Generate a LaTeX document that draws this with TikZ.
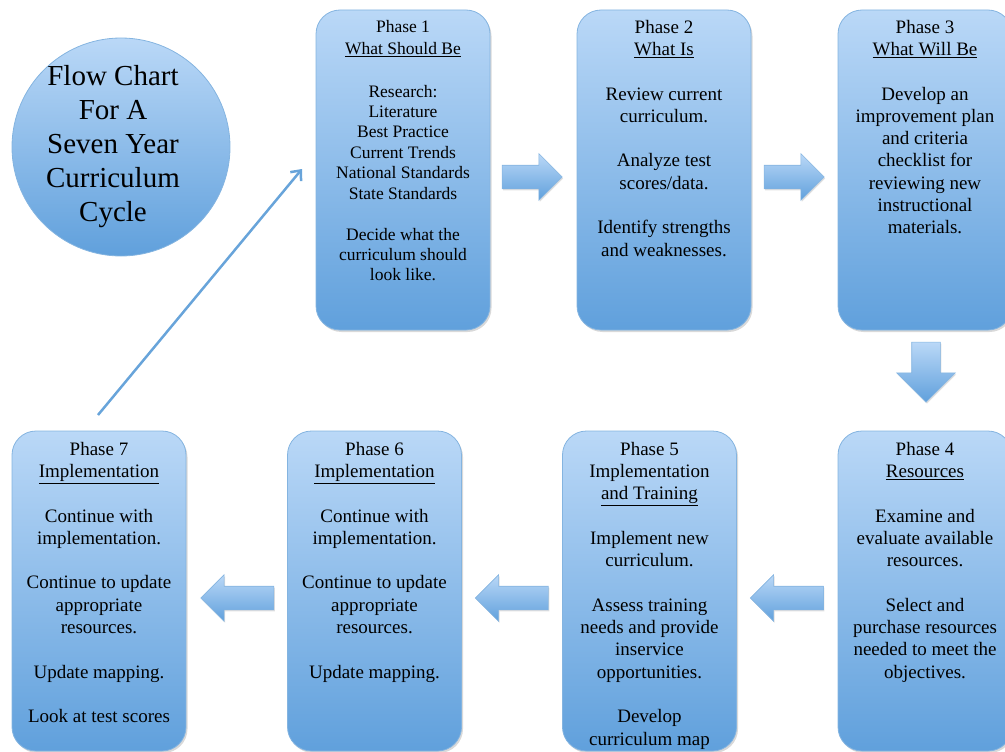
\documentclass[tikz,border=0pt]{standalone}
\usepackage{fontspec}
\setmainfont{Liberation Serif}
\usetikzlibrary{arrows.meta,shapes.arrows,shadows,calc}

\definecolor{boxtop}{RGB}{186,216,247}
\definecolor{boxbot}{RGB}{96,160,220}
\definecolor{boxedge}{RGB}{132,180,224}
\definecolor{linkblue}{RGB}{104,164,218}

\begin{document}
\begin{tikzpicture}[x=1pt,y=1pt,yscale=-1,xscale=1,
  phase/.style={draw=boxedge, line width=0.8pt, rounded corners=24pt, top color=boxtop, bottom color=boxbot, minimum width=174pt, minimum height=320pt, inner sep=0pt, drop shadow={shadow xshift=1.5pt, shadow yshift=-2pt, opacity=0.3}},
  txt/.style={anchor=north, align=center, inner sep=0.75pt, font=\fontsize{19}{22.3}\selectfont},
  blockarrow/.style={single arrow, draw=boxedge, line width=0.6pt, top color=boxtop, bottom color=boxbot, inner xsep=0pt, inner ysep=11.5pt, single arrow head extend=11.5pt, minimum height=60pt, anchor=tip, drop shadow={shadow xshift=1pt, shadow yshift=-1.5pt, opacity=0.25}},
  link/.style={draw=linkblue, line width=2.5pt, -{Straight Barb[length=8pt,width=14pt,line width=2.5pt]}}]
\useasboundingbox (0,0) rectangle (1005,752);

%Shape: Circle
\node [circle, draw=boxedge, line width=0.8pt, top color=boxtop, bottom color=boxbot, minimum size=218pt, inner sep=0pt] (cyc) at (121,147) {};
% Text Node
\node [align=center, inner sep=0.75pt, font=\fontsize{29}{34}\selectfont] (cyctxt) at ($(cyc.center)+(-8,0)$) {Flow Chart\\For A\\Seven Year\\Curriculum\\Cycle};

%Shape: Rounded Rect (top row)
\node [phase] (ph1) at (403,170) {};
\node [phase] (ph2) at (664,170) {};
\node [phase] (ph3) at (925,170) {};
%Shape: Rounded Rect (bottom row)
\node [phase] (ph4) at (925,591) {};
\node [phase] (ph5) at (649.5,591) {};
\node [phase] (ph6) at (374.5,591) {};
\node [phase] (ph7) at (99,591) {};

%Block Arrows
\node [blockarrow] (a12) at ($(ph2.west)+(-14,7)$) {};
\node [blockarrow] (a23) at ($(ph3.west)+(-13,7)$) {};
\node [blockarrow, shape border rotate=270, inner xsep=14pt, inner ysep=0pt, single arrow head extend=15pt] (a34) at ($(ph4.north)+(1,-28)$) {};
\node [blockarrow, shape border rotate=180, minimum height=73pt] (a45) at ($(ph5.east)+(13,7)$) {};
\node [blockarrow, shape border rotate=180, minimum height=73pt] (a56) at ($(ph6.east)+(13,7)$) {};
\node [blockarrow, shape border rotate=180, minimum height=73pt] (a67) at ($(ph7.east)+(14,7)$) {};

%Straight Lines
\coordinate (from7) at (98,415);
\coordinate (to1) at (302,169);
\draw [link] (from7) -- (to1);

% Text Node
\draw (403,19) node (t1) [txt, font=\fontsize{17.5}{20.4}\selectfont] {Phase 1\\[1.6pt]\underline{What Should Be}\\[22.6pt]Research:\\Literature\\Best Practice\\Current Trends\\National Standards\\State Standards\\[20.6pt]Decide what the\\curriculum should\\look like.};
% Text Node
\draw (664,19) node (t2) [txt] {Phase 2\\\underline{What Is}\\[22.3pt]Review current\\curriculum.\\[22.3pt]Analyze test\\scores/data.\\[22.3pt]Identify strengths\\and weaknesses.};
% Text Node
\draw (925,19) node (t3) [txt] {Phase 3\\\underline{What Will Be}\\[22.3pt]Develop an\\improvement plan\\and criteria\\checklist for\\reviewing new\\instructional\\materials.};
% Text Node
\draw (925,441) node (t4) [txt] {Phase 4\\\underline{Resources}\\[22.3pt]Examine and\\evaluate available\\resources.\\[22.3pt]Select and\\purchase resources\\needed to meet the\\objectives.};
% Text Node
\draw (649.5,441) node (t5) [txt] {Phase 5\\Implementation\\\underline{and Training}\\[22.3pt]Implement new\\curriculum.\\[22.3pt]Assess training\\needs and provide\\inservice\\opportunities.\\[22.3pt]Develop\\curriculum map};
% Text Node
\draw (374.5,441) node (t6) [txt] {Phase 6\\\underline{Implementation}\\[22.3pt]Continue with\\implementation.\\[22.3pt]Continue to update\\appropriate\\resources.\\[22.3pt]Update mapping.};
% Text Node
\draw (99,441) node (t7) [txt] {Phase 7\\\underline{Implementation}\\[22.3pt]Continue with\\implementation.\\[22.3pt]Continue to update\\appropriate\\resources.\\[22.3pt]Update mapping.\\[22.3pt]Look at test scores};

\end{tikzpicture}
\end{document}
